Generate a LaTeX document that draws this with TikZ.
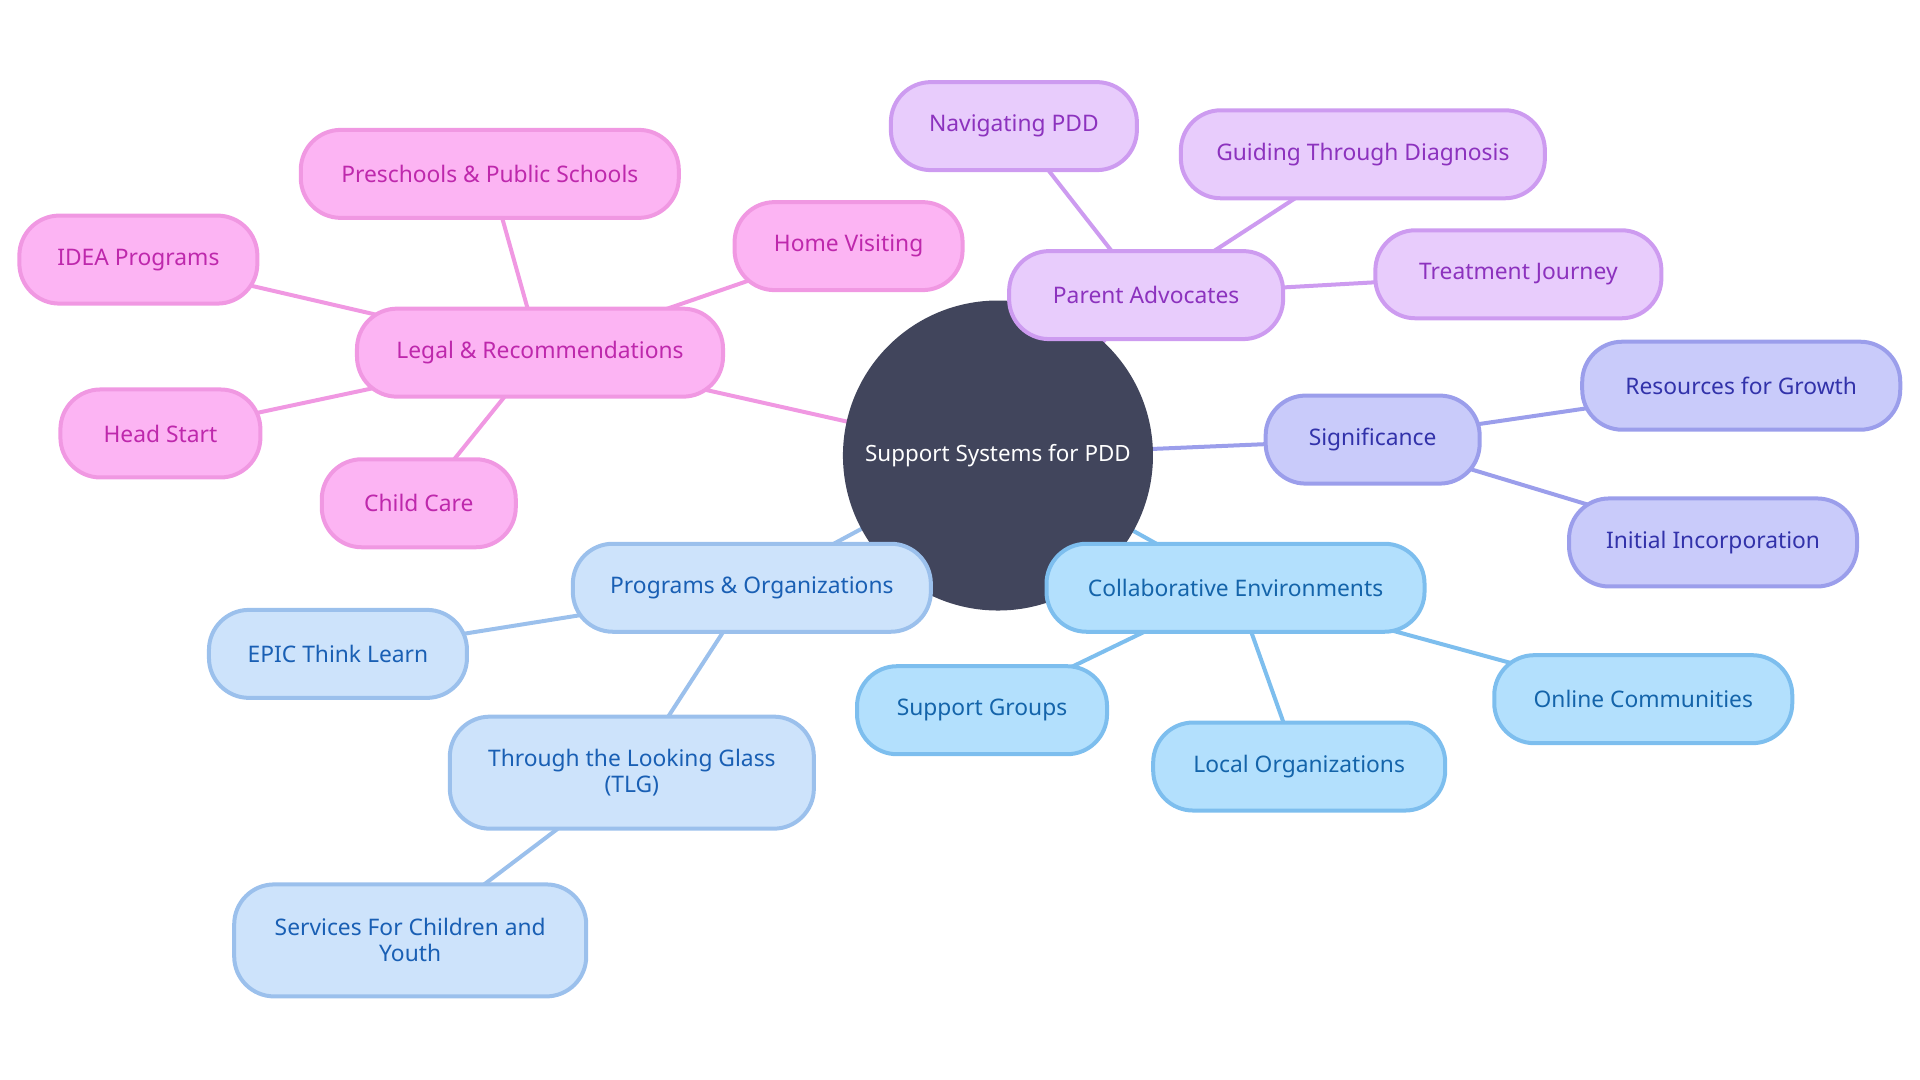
\documentclass[tikz,border=0pt]{standalone}
\usepackage{fontspec}
\setmainfont{Noto Sans}
\usepackage{xcolor}
\usetikzlibrary{positioning,backgrounds}

\definecolor{rootfill}{RGB}{65,69,92}
\definecolor{legalfill}{RGB}{252,180,243}
\definecolor{legalline}{RGB}{240,152,226}
\definecolor{legaltext}{RGB}{190,40,172}
\definecolor{advfill}{RGB}{232,204,252}
\definecolor{advline}{RGB}{205,155,240}
\definecolor{advtext}{RGB}{140,50,190}
\definecolor{sigfill}{RGB}{201,203,250}
\definecolor{sigline}{RGB}{155,158,235}
\definecolor{sigtext}{RGB}{50,50,170}
\definecolor{collabfill}{RGB}{179,224,253}
\definecolor{collabline}{RGB}{125,190,238}
\definecolor{collabtext}{RGB}{20,100,170}
\definecolor{progfill}{RGB}{205,227,251}
\definecolor{progline}{RGB}{155,192,236}
\definecolor{progtext}{RGB}{25,95,180}

\tikzset{
  topic/.style={draw, rounded corners=20pt, line width=2pt, minimum height=44pt,
    inner sep=2pt, align=center, font=\fontsize{11.4}{13}\selectfont},
  rootnode/.style={circle, fill=rootfill, text=white, minimum size=155pt, inner sep=0pt,
    font=\fontsize{11.2}{13}\selectfont},
  legalbox/.style={topic, fill=legalfill, draw=legalline, text=legaltext},
  advbox/.style={topic, fill=advfill, draw=advline, text=advtext},
  sigbox/.style={topic, fill=sigfill, draw=sigline, text=sigtext},
  collabbox/.style={topic, fill=collabfill, draw=collabline, text=collabtext},
  progbox/.style={topic, fill=progfill, draw=progline, text=progtext},
  link/.style={line width=2pt},
}

\begin{document}
\begin{tikzpicture}[x=0.6122pt, y=-0.6122pt]
    \useasboundingbox (0,0) rectangle (1568,882);

    % Centre
    \node[rootnode] (root) at (815,372) {Support Systems for PDD};

    % Legal & Recommendations
    \node[legalbox, minimum width=183pt] (legal) at (441,288) {Legal \& Recommendations};
    \node[legalbox, minimum width=189pt] (preschools) at (400,142) {Preschools \& Public Schools};
    \node[legalbox, minimum width=119pt] (idea) at (113,212) {IDEA Programs};
    \node[legalbox, minimum width=114pt] (home) at (693,201) {Home Visiting};
    \node[legalbox, minimum width=100pt] (headstart) at (131,354) {Head Start};
    \node[legalbox, minimum width=97pt] (childcare) at (342,411) {Child Care};

    % Parent Advocates
    \node[advbox, minimum width=137pt] (parent) at (936,241) {Parent Advocates};
    \node[advbox, minimum width=123pt] (navigating) at (828,103) {Navigating PDD};
    \node[advbox, minimum width=182pt] (guiding) at (1113,126) {Guiding Through Diagnosis};
    \node[advbox, minimum width=143pt] (treatment) at (1240,224) {Treatment Journey};

    % Significance
    \node[sigbox, minimum width=107pt] (significance) at (1121,359) {Significance};
    \node[sigbox, minimum width=159pt] (resources) at (1422,315) {Resources for Growth};
    \node[sigbox, minimum width=144pt] (initial) at (1399,443) {Initial Incorporation};

    % Collaborative Environments
    \node[collabbox, minimum width=189pt] (collab) at (1009,480) {Collaborative Environments};
    \node[collabbox, minimum width=125pt] (groups) at (802,580) {Support Groups};
    \node[collabbox, minimum width=146pt] (local) at (1061,626) {Local Organizations};
    \node[collabbox, minimum width=149pt] (online) at (1342,571) {Online Communities};

    % Programs & Organizations
    \node[progbox, minimum width=179pt] (programs) at (614,480) {Programs \& Organizations};
    \node[progbox, minimum width=129pt] (epic) at (276,534) {EPIC Think Learn};
    \node[progbox, minimum width=182pt, minimum height=56pt] (tlg) at (516,631) {Through the Looking Glass\\(TLG)};
    \node[progbox, minimum width=176pt, minimum height=56pt] (services) at (335,768) {Services For Children and\\Youth};

    % Links
    \begin{pgfonlayer}{background}
        \draw[link, legalline] (root.center) -- (legal.center);
        \draw[link, legalline] (legal.center) -- (preschools.center);
        \draw[link, legalline] (legal.center) -- (idea.center);
        \draw[link, legalline] (legal.center) -- (home.center);
        \draw[link, legalline] (legal.center) -- (headstart.center);
        \draw[link, legalline] (legal.center) -- (childcare.center);

        \draw[link, advline] (root.center) -- (parent.center);
        \draw[link, advline] (parent.center) -- (navigating.center);
        \draw[link, advline] (parent.center) -- (guiding.center);
        \draw[link, advline] (parent.center) -- (treatment.center);

        \draw[link, sigline] (root.center) -- (significance.center);
        \draw[link, sigline] (significance.center) -- (resources.center);
        \draw[link, sigline] (significance.center) -- (initial.center);

        \draw[link, collabline] (root.center) -- (collab.center);
        \draw[link, collabline] (collab.center) -- (groups.center);
        \draw[link, collabline] (collab.center) -- (local.center);
        \draw[link, collabline] (collab.center) -- (online.center);

        \draw[link, progline] (root.center) -- (programs.center);
        \draw[link, progline] (programs.center) -- (epic.center);
        \draw[link, progline] (programs.center) -- (tlg.center);
        \draw[link, progline] (tlg.center) -- (services.center);
    \end{pgfonlayer}
\end{tikzpicture}
\end{document}
